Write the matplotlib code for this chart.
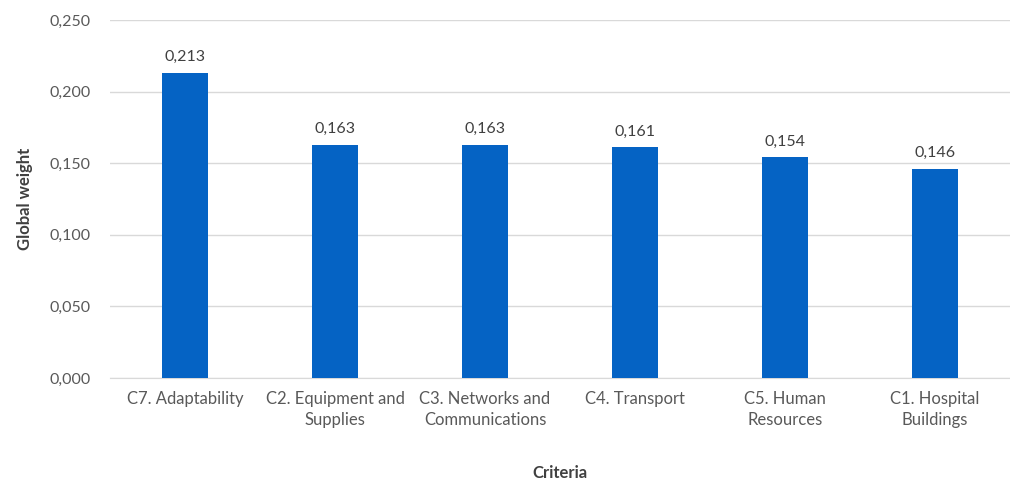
import matplotlib
matplotlib.use("Agg")
import matplotlib.pyplot as plt
import numpy as np

categories = ["C7. Adaptability", "C2. Equipment and\nSupplies", "C3. Networks and\nCommunications",
              "C4. Transport", "C5. Human\nResources", "C1. Hospital\nBuildings"]
values = [0.213, 0.163, 0.163, 0.161, 0.154, 0.146]
yticks = [0.0, 0.05, 0.10, 0.15, 0.20, 0.25]

plt.rcParams['font.family'] = ['Lato', 'DejaVu Sans']

fig = plt.figure(figsize=(10.1, 4.86), dpi=100)
ax = fig.add_axes([0.109, 0.222, 0.891, 0.737])
x = np.arange(len(categories))
ax.bar(x, values, width=0.31, color='#0563C4', zorder=3)
for xi, v in zip(x, values):
    ax.text(xi, v + 0.006, f"{v:.3f}".replace('.', ','), ha='center', va='bottom',
            fontsize=11.5, color='#404040')
ax.set_xlim(-0.5, len(categories) - 0.5)
ax.set_ylim(0, 0.25)
ax.set_yticks(yticks)
ax.set_yticklabels([f"{t:.3f}".replace('.', ',') for t in yticks], fontsize=11.5, color='#595959')
ax.set_xticks(x)
ax.set_xticklabels(categories, fontsize=12, color='#595959', linespacing=1.45)
ax.tick_params(axis='x', length=0, pad=9)
ax.tick_params(axis='y', length=0, pad=14)
ax.grid(axis='y', color='#D9D9D9', linewidth=1, zorder=0)
for s in ['top', 'right', 'left']:
    ax.spines[s].set_visible(False)
ax.spines['bottom'].set_color('#D9D9D9')
ax.set_ylabel("Global weight", fontsize=12, fontweight='bold', color='#404040', labelpad=12)
ax.set_xlabel("Criteria", fontsize=12, fontweight='bold', color='#404040', labelpad=26)
fig.savefig("out.png", dpi=100)
